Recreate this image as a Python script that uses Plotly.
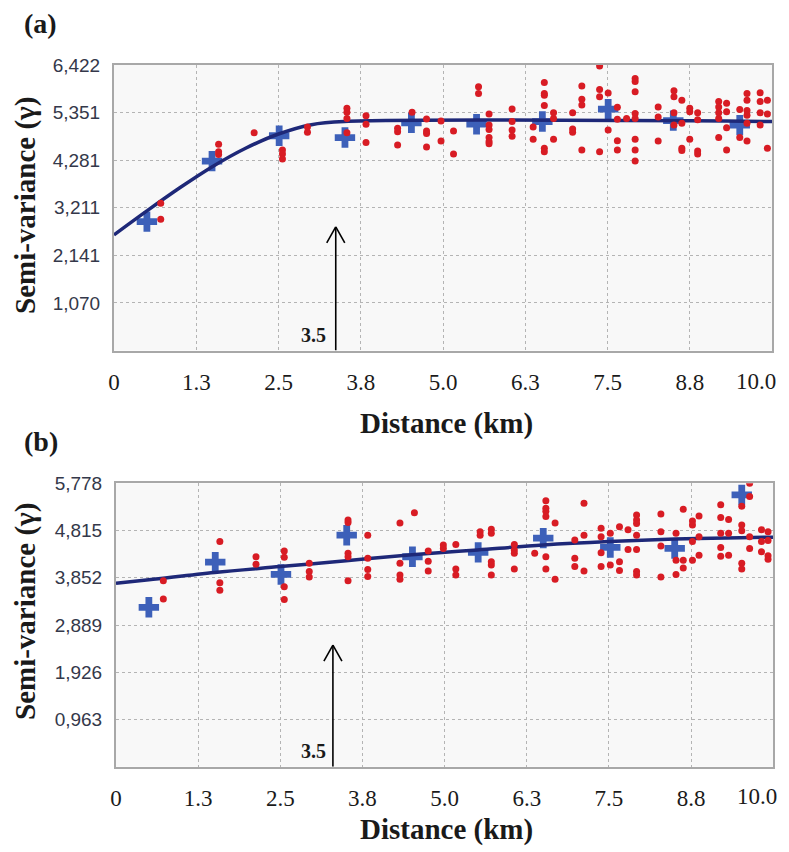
import plotly.graph_objects as go

# ---------------- data: panel (a) ----------------
a_lag_x = [0.50, 1.49, 2.51, 3.51, 4.52, 5.51, 6.51, 7.51, 8.50, 9.51]
a_lag_y = [2.90, 4.26, 4.83, 4.79, 5.12, 5.09, 5.15, 5.43, 5.17, 5.07]

a_model_x = [0.0, 0.5, 1.0, 1.5, 2.0, 2.5, 3.0, 3.5, 10.0]
a_model_y = [2.60, 3.14, 3.66, 4.14, 4.55, 4.87, 5.08, 5.15, 5.15]

a_pair_x = [0.71, 0.71, 1.59, 1.59, 1.59, 2.13, 2.56, 2.56, 2.56, 2.94, 2.94,
            3.54, 3.54, 3.54, 3.54, 3.83, 3.83, 3.83, 4.31, 4.31, 4.31,
            4.53, 4.75, 4.75, 4.75, 4.75, 4.97, 4.97, 5.16, 5.16,
            5.54, 5.54, 5.70, 5.70, 5.70, 5.70, 5.70, 5.70,
            6.05, 6.05, 6.05, 6.05, 6.37, 6.37,
            6.54, 6.54, 6.54, 6.54, 6.54, 6.54, 6.68, 6.68, 6.68,
            6.97, 6.97, 6.97, 7.11, 7.11, 7.11, 7.11,
            7.38, 7.38, 7.38, 7.38, 7.51, 7.51, 7.65, 7.65, 7.65, 7.65, 7.79,
            7.92, 7.92, 7.92, 7.92, 7.92, 7.92, 7.92, 7.92,
            8.27, 8.27, 8.27, 8.51, 8.51, 8.51, 8.51, 8.63, 8.63, 8.63, 8.63,
            8.75, 8.75, 8.75, 8.87, 8.87, 8.87, 8.87,
            9.19, 9.19, 9.19, 9.19, 9.19, 9.31, 9.31, 9.31, 9.31, 9.51, 9.51,
            9.62, 9.62, 9.62, 9.62, 9.62, 9.62, 9.82, 9.82, 9.82, 9.82,
            9.93, 9.93, 9.93]
a_pair_y = [3.31, 2.95, 4.64, 4.47, 4.41, 4.90, 4.51, 4.42, 4.31, 5.03, 4.91,
            5.45, 5.36, 5.22, 4.90, 5.28, 5.09, 4.68, 5.00, 4.92, 4.62,
            5.36, 5.21, 4.94, 4.88, 4.58, 5.16, 4.71, 4.94, 4.42,
            5.93, 5.78, 5.32, 5.07, 4.97, 4.79, 4.70, 4.65,
            5.43, 5.15, 4.96, 4.82, 5.03, 4.75,
            6.03, 5.78, 5.74, 5.51, 4.55, 4.47, 5.35, 5.22, 4.75,
            5.35, 4.98, 4.91, 5.95, 5.65, 5.52, 4.51,
            6.40, 5.87, 5.71, 4.47, 5.79, 4.96, 5.47, 5.20, 4.72, 4.51, 5.22,
            6.12, 6.05, 5.82, 5.33, 5.22, 4.75, 4.51, 4.26,
            5.48, 5.25, 4.71, 5.84, 5.71, 5.35, 5.07, 5.63, 5.11, 4.55, 4.50,
            5.45, 5.37, 4.75, 5.35, 5.19, 4.49, 4.42,
            5.60, 5.48, 5.35, 5.22, 4.79, 5.56, 5.37, 5.01, 4.51, 5.42, 4.79,
            5.78, 5.63, 5.40, 5.29, 5.11, 4.71, 5.80, 5.60, 5.35, 5.07,
            5.63, 5.32, 4.55]

a_ytick_vals = [1.0703, 2.1407, 3.2110, 4.2813, 5.3517, 6.4220]
a_ytick_text = ["1,070", "2,141", "3,211", "4,281", "5,351", "6,422"]

# ---------------- data: panel (b) ----------------
b_lag_x = [0.50, 1.51, 2.51, 3.51, 4.51, 5.51, 6.50, 7.52, 8.50, 9.52]
b_lag_y = [3.25, 4.17, 3.92, 4.72, 4.28, 4.37, 4.66, 4.47, 4.45, 5.54]

b_model_x = [0.0, 0.5, 1.5, 2.5, 3.5, 4.5, 5.5, 6.5, 7.5, 8.5, 9.5, 10.0]
b_model_y = [3.74, 3.81, 3.96, 4.08, 4.20, 4.32, 4.42, 4.52, 4.59, 4.64, 4.67, 4.68]

b_pair_x = [0.72, 0.72, 1.58, 1.58, 1.58, 2.13, 2.13, 2.56, 2.56, 2.56, 2.56,
            2.94, 2.94, 2.94, 3.53, 3.53, 3.53, 3.53, 3.53,
            3.83, 3.83, 3.83, 3.83, 4.32, 4.32, 4.32, 4.32,
            4.54, 4.75, 4.75, 4.75, 4.98, 4.98, 5.17, 5.17, 5.17,
            5.54, 5.54, 5.71, 5.71, 5.71, 5.71, 5.71,
            6.06, 6.06, 6.06, 6.06, 6.37,
            6.54, 6.54, 6.54, 6.54, 6.54, 6.54, 6.68, 6.68,
            6.98, 6.98, 6.98, 7.12, 7.12, 7.12,
            7.38, 7.38, 7.38, 7.38, 7.52, 7.52, 7.66, 7.66, 7.66, 7.79, 7.79,
            7.92, 7.92, 7.92, 7.92, 7.92, 7.92, 7.92,
            8.29, 8.29, 8.29, 8.29, 8.52, 8.52, 8.52, 8.63, 8.63, 8.63,
            8.77, 8.77, 8.77, 8.77, 8.87, 8.87, 8.87,
            9.20, 9.20, 9.20, 9.20, 9.20, 9.32, 9.32, 9.32,
            9.52, 9.52, 9.52, 9.52, 9.52, 9.64, 9.64, 9.64, 9.64,
            9.82, 9.82, 9.82, 9.92, 9.92, 9.92, 9.92]
b_pair_y = [3.79, 3.42, 4.59, 3.75, 3.60, 4.28, 4.13, 4.40, 4.27, 3.67, 3.41,
            4.15, 3.98, 3.87, 5.03, 4.98, 4.35, 4.28, 3.79,
            4.72, 4.25, 4.02, 3.88, 4.97, 4.15, 3.91, 3.82,
            5.18, 4.40, 4.19, 3.99, 4.52, 4.45, 4.53, 4.03, 3.91,
            4.79, 4.72, 4.84, 4.76, 4.18, 4.11, 3.91,
            4.53, 4.42, 4.35, 4.03, 4.35,
            5.42, 5.27, 5.21, 5.10, 4.28, 4.03, 4.97, 3.82,
            4.62, 4.25, 4.08, 5.37, 4.72, 3.99,
            4.86, 4.69, 4.36, 4.08, 4.76, 4.11, 4.89, 4.18, 4.00, 4.83, 4.43,
            5.13, 5.03, 4.96, 4.72, 4.43, 3.98, 3.91,
            5.15, 4.79, 4.50, 3.87, 4.76, 4.21, 3.92, 5.25, 4.21, 4.05,
            5.01, 4.93, 4.59, 4.21, 5.11, 4.69, 4.31,
            5.34, 5.08, 4.76, 4.47, 4.29, 5.04, 4.76, 4.31,
            5.31, 4.93, 4.81, 4.15, 4.03, 5.78, 5.51, 4.69, 4.45,
            4.83, 4.59, 4.38, 4.79, 4.61, 4.30, 4.23]

b_ytick_vals = [0.963, 1.926, 2.889, 3.852, 4.815, 5.778]
b_ytick_text = ["0,963", "1,926", "2,889", "3,852", "4,815", "5,778"]

# ---------------- shared ----------------
xtick_vals = [0, 1.25, 2.5, 3.75, 5.0, 6.25, 7.5, 8.75, 10.0]
xtick_text = ["0", "1.3", "2.5", "3.8", "5.0", "6.3", "7.5", "8.8", "10.0"]
panel_labels = ["(a)", "(b)"]
arrow_label = "3.5"
arrow_x = [3.37, 3.30]
arrow_top = [2.78, 2.48]
y_title = "Semi-variance (γ)"
x_title = "Distance (km)"

# ---------------- style ----------------
W, H = 789, 852
SERIF = "Liberation Serif, Times New Roman, serif"
SANS = "Liberation Sans, Arial, sans-serif"
RED = "#d81c24"
BLUE = "#3d60b9"
NAVY = "#1e2878"
GRID = "#b4b4b4"
FRAME = "#a8a8a8"
TXT = "#1a1a1a"

def px_to_paper_x(px):
    return px / W

def px_to_paper_y(py):
    return 1 - py / H

# last tick label is drawn right-aligned at its tick (as in the original) so it stays inside
xtick_disp = xtick_text[:-1] + [""]

fig = go.Figure()

panels = [
    dict(lx=a_lag_x, ly=a_lag_y, mx=a_model_x, my=a_model_y, px=a_pair_x, py=a_pair_y,
         yv=a_ytick_vals, yt=a_ytick_text, ymax=6.422,
         box=(114, 772, 65, 350.5), xa="x", ya="y", xlab_y=381.7),
    dict(lx=b_lag_x, ly=b_lag_y, mx=b_model_x, my=b_model_y, px=b_pair_x, py=b_pair_y,
         yv=b_ytick_vals, yt=b_ytick_text, ymax=5.778,
         box=(116, 773.3, 483.3, 766.7), xa="x2", ya="y2", xlab_y=796.7),
]

layout_axes = {}
shapes = []
annotations = []

for i, p in enumerate(panels):
    xa, ya = p["xa"], p["ya"]
    fig.add_trace(go.Scatter(x=p["lx"], y=p["ly"], mode="markers", xaxis=xa, yaxis=ya,
                             marker=dict(symbol="cross", size=17, color=BLUE, line=dict(width=0)),
                             showlegend=False, hoverinfo="skip"))
    fig.add_trace(go.Scatter(x=p["mx"], y=p["my"], mode="lines", xaxis=xa, yaxis=ya,
                             line=dict(color=NAVY, width=3.5, shape="spline", smoothing=1.0),
                             showlegend=False, hoverinfo="skip"))
    fig.add_trace(go.Scatter(x=p["px"], y=p["py"], mode="markers", xaxis=xa, yaxis=ya,
                             marker=dict(symbol="circle", size=7, color=RED, line=dict(width=0)),
                             showlegend=False, hoverinfo="skip"))

    x0, x1, y0, y1 = p["box"]
    xname = "xaxis" if i == 0 else "xaxis2"
    yname = "yaxis" if i == 0 else "yaxis2"
    layout_axes[xname] = dict(
        domain=[px_to_paper_x(x0), px_to_paper_x(x1)], anchor=ya, range=[0, 10],
        tickvals=xtick_vals, ticktext=xtick_disp, ticks="outside", ticklen=10,
        tickcolor="rgba(0,0,0,0)", tickfont=dict(family=SERIF, size=23, color=TXT),
        ticklabeloverflow="allow", automargin=False,
        showgrid=True, gridcolor=GRID, griddash="dot", gridwidth=1,
        showline=True, linecolor=FRAME, linewidth=2, mirror=True, zeroline=False,
        fixedrange=True)
    layout_axes[yname] = dict(
        domain=[px_to_paper_y(y1), px_to_paper_y(y0)], anchor=xa, range=[0, p["ymax"]],
        tickvals=p["yv"], ticktext=p["yt"], ticks="outside", ticklen=8,
        tickcolor="rgba(0,0,0,0)", tickfont=dict(family=SANS, size=19, color="#34384a"),
        ticklabeloverflow="allow", automargin=False,
        showgrid=True, gridcolor=GRID, griddash="dot", gridwidth=1,
        showline=True, linecolor=FRAME, linewidth=2, mirror=True, zeroline=False,
        fixedrange=True)

    # last x tick label ("10.0"), anchored to the axis at its tick value
    annotations.append(dict(text=xtick_text[-1], xref=xa, yref="paper",
                            x=xtick_vals[-1], y=px_to_paper_y(p["xlab_y"]),
                            xanchor="right", yanchor="middle", xshift=6, showarrow=False,
                            font=dict(family=SERIF, size=23, color=TXT)))

    # arrow stem
    shapes.append(dict(type="line", xref=xa, yref=ya, x0=arrow_x[i], x1=arrow_x[i],
                       y0=0, y1=arrow_top[i], line=dict(color="black", width=1.6)))
    # arrow head (open V) sized in pixels
    for dx in (-9, 9):
        shapes.append(dict(type="line", xref=xa, yref=ya, xsizemode="pixel", ysizemode="pixel",
                           xanchor=arrow_x[i], yanchor=arrow_top[i],
                           x0=0, y0=0, x1=dx, y1=-16, line=dict(color="black", width=1.6)))
    # "3.5" label
    annotations.append(dict(text="<b>%s</b>" % arrow_label, xref="paper", yref="paper",
                            x=px_to_paper_x(313), y=px_to_paper_y(335 if i == 0 else 751),
                            xanchor="center", yanchor="middle", showarrow=False,
                            font=dict(family=SERIF, size=20, color=TXT)))

# panel labels
annotations.append(dict(text="<b>%s</b>" % panel_labels[0], xref="paper", yref="paper",
                        x=px_to_paper_x(40), y=px_to_paper_y(24), xanchor="center",
                        yanchor="middle", showarrow=False,
                        font=dict(family=SERIF, size=28, color=TXT)))
annotations.append(dict(text="<b>%s</b>" % panel_labels[1], xref="paper", yref="paper",
                        x=px_to_paper_x(41), y=px_to_paper_y(441), xanchor="center",
                        yanchor="middle", showarrow=False,
                        font=dict(family=SERIF, size=28, color=TXT)))
# axis titles
for yc in (206, 612):
    annotations.append(dict(text="<b>%s</b>" % y_title, xref="paper", yref="paper",
                            x=px_to_paper_x(25), y=px_to_paper_y(yc), textangle=-90,
                            xanchor="center", yanchor="middle", showarrow=False,
                            font=dict(family=SERIF, size=29, color=TXT)))
for yc in (423, 829):
    annotations.append(dict(text="<b>%s</b>" % x_title, xref="paper", yref="paper",
                            x=px_to_paper_x(447), y=px_to_paper_y(yc),
                            xanchor="center", yanchor="middle", showarrow=False,
                            font=dict(family=SERIF, size=29, color=TXT)))

fig.update_layout(
    width=W, height=H, margin=dict(l=0, r=0, t=0, b=0, autoexpand=False),
    paper_bgcolor="white", plot_bgcolor="#f8f8f8",
    shapes=shapes, annotations=annotations, showlegend=False,
    **layout_axes)

fig.write_html("out.html",
               config={"displayModeBar": False},
               post_script="document.body.style.margin='0';document.body.style.overflow='hidden';")
